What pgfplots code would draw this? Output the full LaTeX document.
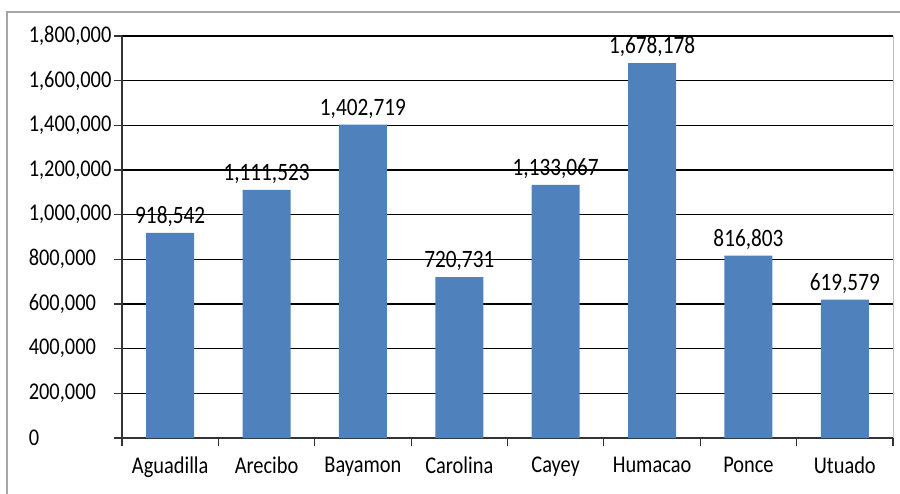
\documentclass[border=0pt]{standalone}
\usepackage{fontspec}
\setmainfont{Carlito}[FakeStretch=0.85]
\usepackage{pgfplots}
\usepackage{pgfplotstable}
\pgfplotsset{compat=1.18}
\definecolor{barblue}{HTML}{4F81BD}
\definecolor{framegray}{HTML}{A6A6A6}

\pgfplotstableread{
x y lab
0 918542 918,542
1 1111523 1,111,523
2 1402719 1,402,719
3 720731 720,731
4 1133067 1,133,067
5 1678178 1,678,178
6 816803 816,803
7 619579 619,579
}\data

\begin{document}
\begin{tikzpicture}
\path[use as bounding box] (0,0) rectangle (900bp,-494bp);
% outer chart frame, cut off at right and bottom
\draw[framegray, line width=1.2bp] (7bp,-520bp) -- (7bp,-12bp) -- (930bp,-12bp);
\begin{axis}[
    at={(122bp,-438bp)}, anchor=south west,
    width=771bp, height=402bp, scale only axis,
    xmin=-0.5, xmax=7.5,
    ymin=0, ymax=1800000,
    ytick={0,200000,...,1800000},
    xtick={-0.5,0.5,...,7.5},
    x tick label as interval,
    xticklabels={Aguadilla,Arecibo,Bayamon,Carolina,Cayey,Humacao,Ponce,Utuado},
    axis lines*=left,
    axis line style={black!80, line width=1.2bp},
    ymajorgrids,
    grid style={black, line width=1.3bp},
    tick align=outside,
    major tick length=8bp,
    tick style={black!80, line width=1.2bp},
    tick label style={font=\fontsize{24bp}{28bp}\selectfont},
    yticklabel style={text width=82bp, align=left, inner sep=0pt, xshift=-3bp,
        /pgf/number format/.cd, fixed, 1000 sep={,}, assume math mode=true},
    xticklabel style={inner sep=0pt, yshift=-11bp},
    scaled y ticks=false,
    clip=false,
]
\addplot[ybar, bar width=48bp, fill=barblue, draw=none,
    point meta=explicit symbolic,
    nodes near coords,
    nodes near coords style={font=\fontsize{25bp}{29bp}\selectfont, inner sep=0pt, anchor=south, yshift=6bp}]
    table[x=x, y=y, meta=lab] {\data};
\draw[black!25, line width=1bp] (axis cs:7.5,0) -- (axis cs:7.5,1800000);
\end{axis}
\end{tikzpicture}
\end{document}
